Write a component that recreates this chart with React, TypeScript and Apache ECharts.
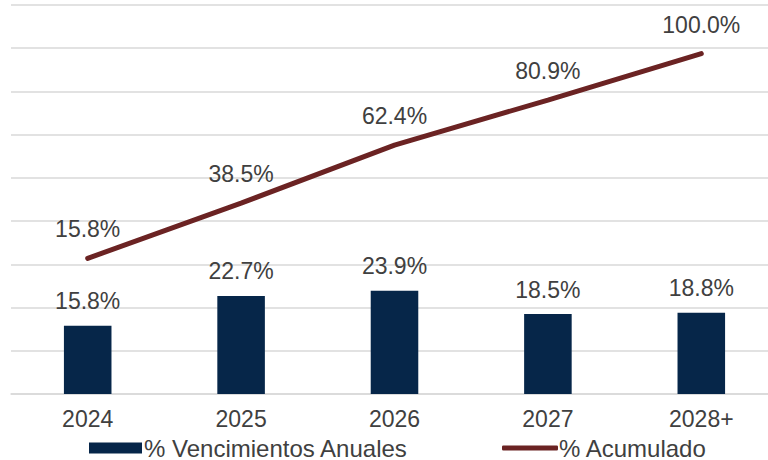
import React, { useEffect, useRef } from "react";
import * as echarts from "echarts";

const categories = ["2024", "2025", "2026", "2027", "2028+"];
const annualValues = [15.8, 22.7, 23.9, 18.5, 18.8];
const cumulativeValues = [15.8, 38.5, 62.4, 80.9, 100.0];
const barName = "% Vencimientos Anuales";
const lineName = "% Acumulado";

const FONT = "'Liberation Sans', Arial, sans-serif";
const TEXT = "#404040";
const BAR = "#062649";
const LINE = "#6B2323";
const GRID = "#d9d9d9";

export default function App() {
  const ref = useRef<HTMLDivElement>(null);
  useEffect(() => {
    if (!ref.current) return;
    const chart = echarts.init(ref.current, null, { renderer: "svg" });
    chart.setOption({
      animation: false,
      textStyle: { fontFamily: FONT },
      grid: { left: 11, width: 767, top: 5, height: 389, outerBoundsMode: "none", containLabel: false },
      legend: [
        {
          data: [{ name: barName, icon: "rect" }],
          left: 89,
          top: 436,
          padding: 0,
          itemWidth: 53,
          itemHeight: 11,
          itemGap: 0,
          textStyle: { fontFamily: FONT, fontSize: 24, lineHeight: 24, color: TEXT, padding: [0, 0, 0, -3] },
        },
        {
          data: [{ name: lineName, icon: "roundRect" }],
          left: 502,
          top: 436,
          padding: 0,
          itemWidth: 56,
          itemHeight: 5,
          itemGap: 0,
          textStyle: { fontFamily: FONT, fontSize: 24, lineHeight: 24, color: TEXT, padding: [0, 0, 0, -4] },
        },
      ],
      xAxis: {
        type: "category",
        data: categories,
        axisLine: { show: true, lineStyle: { color: GRID, width: 1.5 } },
        axisTick: { show: false },
        axisLabel: { fontFamily: FONT, fontSize: 23, color: TEXT, margin: 13 },
      },
      yAxis: [
        {
          type: "value",
          min: 0,
          max: 90,
          interval: 10,
          axisLabel: { show: false },
          axisLine: { show: false },
          axisTick: { show: false },
          splitLine: { lineStyle: { color: GRID, width: 1.5 } },
        },
        {
          type: "value",
          min: -40,
          max: 120,
          show: false,
          splitLine: { show: false },
        },
      ],
      series: [
        {
          name: barName,
          type: "bar",
          data: annualValues,
          barWidth: "31%",
          itemStyle: { color: BAR },
          label: {
            show: true,
            position: "top",
            distance: 13,
            fontFamily: FONT,
            fontSize: 23,
            color: TEXT,
            formatter: (p: any) => p.value.toFixed(1) + "%",
          },
        },
        {
          name: lineName,
          type: "line",
          yAxisIndex: 1,
          data: cumulativeValues,
          showSymbol: true,
          symbol: "circle",
          symbolSize: 1,
          lineStyle: { color: LINE, width: 5, cap: "round" },
          itemStyle: { color: LINE },
          label: {
            show: true,
            position: "top",
            distance: 17,
            fontFamily: FONT,
            fontSize: 23,
            color: TEXT,
            formatter: (p: any) => p.value.toFixed(1) + "%",
          },
        },
      ],
    });
    return () => chart.dispose();
  }, []);
  return (
    <div
      ref={ref}
      style={{ position: "absolute", left: 0, top: 0, width: 768, height: 460, overflow: "hidden", background: "#fff" }}
    />
  );
}
